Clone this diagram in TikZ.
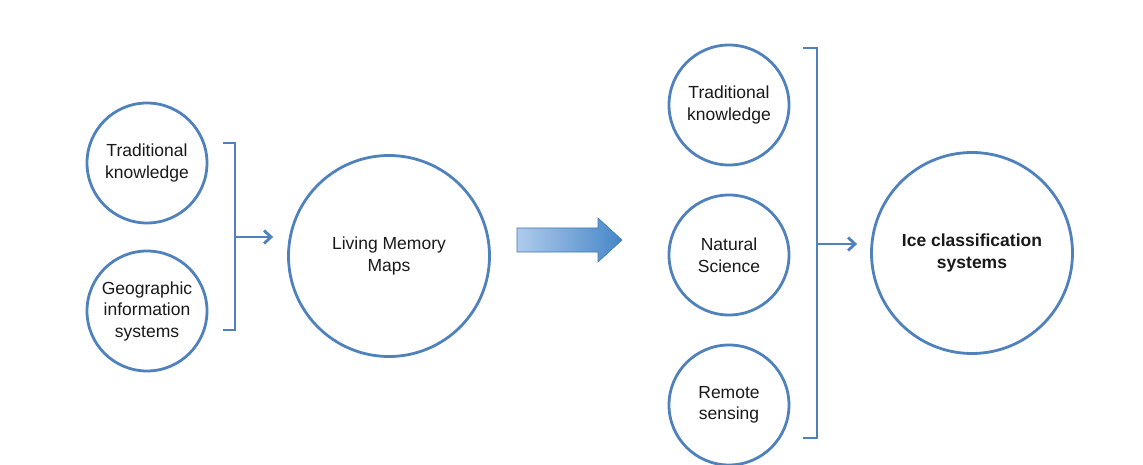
\documentclass[tikz,border=0pt]{standalone}
\usepackage{fontspec}
\setmainfont{Liberation Sans}
\usetikzlibrary{arrows.meta}
\definecolor{cblue}{RGB}{79,129,189}
\definecolor{txt}{RGB}{25,25,25}
\definecolor{alight}{RGB}{175,203,235}
\definecolor{adark}{RGB}{70,134,200}
\tikzset{
  smallc/.style={circle, draw=cblue, line width=2.8pt, minimum size=120pt, inner sep=0pt,
     align=center, text=txt, font=\fontsize{17.5}{21.5}\selectfont},
  bigc/.style={smallc, minimum size=201pt},
  brk/.style={draw=cblue, line width=2.8pt},
  arr/.style={draw=cblue, line width=2.8pt, -{Straight Barb[length=7pt,width=13pt,line width=2.8pt]}},
}
\begin{document}
\begin{tikzpicture}[x=1pt,y=-1pt]
\useasboundingbox (0,0) rectangle (1143,465);
% left group
\node[smallc] (tk1) at (147,163) {Traditional\\knowledge};
\node[smallc] (gis) at (147,311) {Geographic\\information\\systems};
\coordinate (lbt) at (235,143);
\coordinate (lbb) at (235,330);
\coordinate (lbm) at (235,237);
\draw[brk] (223,143) -- (lbt) -- (lbb) -- (223,330);
\node[bigc] (lmm) at (389,256) {Living Memory\\Maps};
\draw[arr, shorten >=14pt] (lbm) -- (lbm -| lmm.west);
% block arrow
\shade[left color=alight, right color=adark, draw=adark!90!black, line width=0.6pt]
  (517,228) -- (598,228) -- (598,218) -- (622,240) -- (598,262) -- (598,252) -- (517,252) -- cycle;
% right group
\node[smallc] (tk2) at (729,105) {Traditional\\knowledge};
\node[smallc] (ns) at (729,255) {Natural\\Science};
\node[smallc] (rs) at (729,405) {Remote\\sensing};
\coordinate (rbt) at (817,48);
\coordinate (rbb) at (817,438);
\coordinate (rbm) at (817,244);
\draw[brk] (803,48) -- (rbt) -- (rbb) -- (803,438);
\node[bigc, font=\fontsize{17.5}{21.5}\selectfont\bfseries] (ice) at (972,253) {Ice classification\\systems};
\draw[arr, shorten >=13pt] (rbm) -- (rbm -| ice.west);
\end{tikzpicture}
\end{document}
